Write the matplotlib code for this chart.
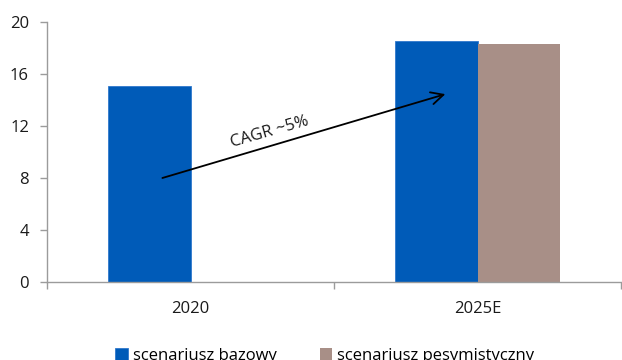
import matplotlib.pyplot as plt
import numpy as np

plt.rcParams['font.family'] = ['Open Sans', 'DejaVu Sans']

categories = ['2020', '2025E']
base = [15.1, 18.5]
pessimistic = [np.nan, 18.3]
series_names = ['scenariusz bazowy', 'scenariusz pesymistyczny']
yticks = [0, 4, 8, 12, 16, 20]

blue = '#005BB8'
brown = '#A88F87'
grey = '#9B9B9B'
fs = 12

fig = plt.figure(figsize=(6.22, 3.6), dpi=100)
ax = fig.add_axes([0.0756, 0.2167, 0.9228, 0.7222])

x = np.arange(len(categories))
w = 0.286
ax.bar(x - w / 2, base, width=w, color=blue, edgecolor='#2F78CC', linewidth=0.6,
       label=series_names[0])
ax.bar(x + w / 2, pessimistic, width=w, color=brown, label=series_names[1])

ax.set_xlim(-0.5, 1.5)
ax.set_ylim(0, 20)
ax.set_yticks(yticks)
ax.set_xticks(x)
ax.set_xticklabels(categories)
ax.set_xticks([-0.5, 0.5, 1.5], minor=True)
ax.tick_params(axis='x', which='major', length=0, pad=14, labelsize=fs, colors='#1a1a1a')
ax.tick_params(axis='x', which='minor', length=5, color=grey, width=1)
ax.tick_params(axis='y', length=5, color=grey, width=1, labelsize=fs, pad=8,
               labelcolor='#1a1a1a')

for s in ['top', 'right']:
    ax.spines[s].set_visible(False)
for s in ['left', 'bottom']:
    ax.spines[s].set_color(grey)
    ax.spines[s].set_linewidth(1)

# growth arrow between the two periods
ax.annotate('', xy=(0.888, 14.45), xytext=(-0.098, 8.0),
            arrowprops=dict(arrowstyle='->', color='black', lw=1.3,
                            mutation_scale=22, shrinkA=0, shrinkB=0))
ax.text(0.276, 11.55, 'CAGR ~5%', rotation=16, ha='center', va='center',
        fontsize=fs, color='#1a1a1a', rotation_mode='anchor')

fig.legend(loc='center', bbox_to_anchor=(0.522, 0.012), ncol=2, frameon=False,
           fontsize=fs, handlelength=0.75, handleheight=0.75, handletextpad=0.3,
           columnspacing=2.6)

fig.savefig('out.png', dpi=100)
